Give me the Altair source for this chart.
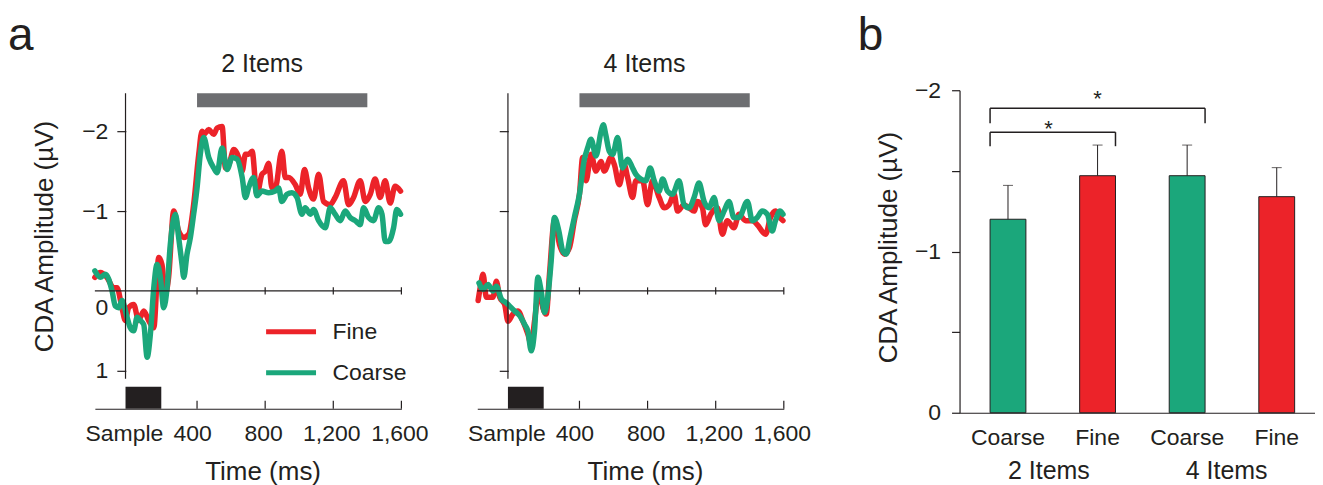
import altair as alt
import pandas as pd

RED = "#ec2329"
GREEN = "#1ba77b"
DARK = "#231f20"
GREY = "#6d6e71"
FONT = "Liberation Sans"

# ---------------- waveform data ----------------
t2_coarse = [-200, -168, -138, -99, -80, -60, -41, -11, 8, 28, 48, 67, 87, 107, 126, 146, 165, 185, 204, 224,
             243, 273, 292, 312, 322, 341, 361, 380, 400, 419, 439, 469, 498, 518, 547, 577, 606, 635, 665, 684,
             704, 732, 752, 781, 820, 859, 879, 898, 928, 957, 987, 1016, 1035, 1065, 1084, 1114, 1153, 1182,
             1211, 1241, 1270, 1299, 1329, 1358, 1378, 1407, 1436, 1466, 1486, 1505, 1525, 1554, 1573, 1595]
v2_coarse = [-0.25, -0.17, -0.21, 0.0, 0.19, 0.21, 0.12, 0.33, 0.46, 0.50, 0.33, 0.37, 0.42, 0.83, 0.54, -0.04,
             -0.33, -0.17, 0.21, -0.04, -0.58, -0.96, -0.67, -0.33, -0.17, -0.46, -0.67, -0.96, -1.29, -1.71,
             -1.92, -1.67, -1.54, -1.48, -1.79, -1.52, -1.67, -1.65, -1.42, -1.17, -1.30, -1.42, -1.19, -1.25,
             -1.23, -1.25, -1.29, -1.12, -1.21, -1.23, -1.17, -0.96, -1.04, -0.96, -1.02, -0.88, -0.79, -1.04,
             -0.96, -0.88, -1.00, -0.92, -0.88, -0.83, -1.04, -0.92, -0.88, -1.04, -0.96, -0.62, -0.62, -0.79,
             -1.02, -0.96]

t2_fine = [-200, -168, -129, -90, -70, -41, -21, -2, 28, 57, 87, 116, 146, 175, 194, 214, 233, 263, 292, 322,
           351, 380, 410, 429, 440, 469, 498, 518, 547, 567, 587, 616, 645, 665, 684, 703, 723, 752, 781, 801,
           820, 840, 859, 898, 918, 938, 977, 1006, 1031, 1055, 1084, 1114, 1143, 1182, 1211, 1260, 1290, 1319,
           1358, 1388, 1417, 1446, 1475, 1505, 1534, 1563, 1595]
v2_fine = [-0.17, -0.23, -0.17, -0.04, -0.04, 0.21, 0.37, 0.21, 0.17, 0.37, 0.25, 0.37, 0.46, -0.42, -0.33, 0.04,
           -0.17, -1.00, -0.75, -0.67, -0.71, -1.08, -1.71, -2.00, -1.96, -2.02, -1.96, -2.04, -2.06, -1.54,
           -1.58, -1.77, -1.67, -1.50, -1.71, -1.71, -1.75, -1.21, -1.46, -1.50, -1.60, -1.29, -1.29, -1.75,
           -1.42, -1.42, -1.33, -1.21, -1.52, -1.29, -1.15, -1.46, -1.12, -1.08, -1.17, -1.38, -1.08, -1.17,
           -1.38, -1.12, -1.21, -1.40, -1.17, -1.38, -1.10, -1.31, -1.25]

t4_coarse = [-190, -166, -137, -108, -88, -59, -29, -10, 19, 49, 78, 97, 117, 136, 156, 175, 195, 214, 234, 253,
             279, 302, 322, 345, 370, 400, 429, 448, 468, 497, 527, 540, 555, 575, 595, 624, 653, 683, 712, 731,
             761, 790, 815, 839, 868, 888, 917, 946, 985, 1014, 1044, 1073, 1102, 1132, 1161, 1190, 1220, 1249,
             1278, 1307, 1337, 1386, 1415, 1444, 1473, 1503, 1532, 1551, 1577, 1595]
v4_coarse = [-0.10, -0.02, -0.08, 0.0, -0.06, 0.10, 0.15, 0.19, 0.25, 0.31, 0.42, 0.50, 0.75, 0.50, -0.17, 0.0,
             0.27, 0.08, -0.38, -0.92, -0.75, -0.50, -0.46, -0.67, -0.92, -1.21, -1.65, -1.79, -1.90, -1.69,
             -2.00, -2.08, -1.95, -1.75, -1.71, -1.92, -1.54, -1.65, -1.54, -1.46, -1.40, -1.38, -1.54, -1.38,
             -1.25, -1.40, -1.25, -1.21, -1.38, -1.08, -1.04, -1.17, -1.35, -1.12, -1.04, -1.17, -0.88, -1.00,
             -1.12, -0.92, -0.92, -1.12, -0.88, -0.92, -1.00, -0.96, -0.75, -0.88, -1.00, -0.96]

t4_fine = [-195, -178, -166, -147, -108, -88, -68, -39, -20, 9, 39, 68, 97, 117, 136, 165, 185, 205, 224, 253,
           283, 312, 341, 370, 400, 419, 439, 468, 497, 526, 546, 585, 605, 634, 663, 683, 712, 731, 771, 800,
           829, 868, 898, 927, 956, 976, 1014, 1044, 1073, 1093, 1122, 1141, 1171, 1210, 1239, 1268, 1307, 1337,
           1376, 1415, 1444, 1493, 1522, 1551, 1577, 1595]
v4_fine = [0.12, -0.10, -0.21, 0.08, 0.08, -0.12, 0.08, 0.17, 0.38, 0.29, 0.25, 0.38, 0.54, 0.67, 0.38, -0.04,
           0.21, 0.29, -0.21, -0.88, -0.58, -0.46, -0.54, -0.88, -1.21, -1.67, -1.38, -1.71, -1.50, -1.62, -1.50,
           -1.67, -1.58, -1.33, -1.58, -1.42, -1.17, -1.38, -1.38, -1.08, -1.38, -1.17, -1.04, -1.08, -1.21,
           -1.00, -1.08, -1.04, -1.00, -1.12, -1.04, -0.83, -0.96, -1.04, -0.71, -0.88, -0.79, -0.96, -0.88,
           -0.88, -0.83, -0.71, -0.92, -1.00, -0.92, -0.88]

conditions = ["Fine", "Coarse"]
x_domain = [-200, 1600]
wave_y_domain = [-2.5125, 1.475]
axis_times = [0, 400, 800, 1200, 1600]
tick_times = [400, 800, 1200, 1600]
wave_y_ticks = [-2, -1, 0, 1]
sample_window = [-20, 190]
signif_window = [400, 1400]
y_axis_time = -20
y_axis_span = [-2.475, 1.1]

# ---------------- bar data ----------------
bar_keys = ["2|Coarse", "2|Fine", "4|Coarse", "4|Fine"]
bar_conds = ["Coarse", "Fine", "Coarse", "Fine"]
bar_means = [-1.20, -1.47, -1.47, -1.34]
bar_sems = [0.21, 0.19, 0.19, 0.18]
groups = ["2 Items", "4 Items"]
bar_y_ticks = [-2, -1.5, -1, -0.5, 0]
bracket_from = ["2|Coarse", "2|Coarse"]
bracket_to = ["4|Coarse", "2|Fine"]
bracket_top = [-1.889, -1.74]
bracket_leg = [-1.796, -1.653]

W1, H1 = 307, 319
W3, H3 = 356, 323
LETTER_SIZE = 46
LETTER_Y = -76

color_scale = alt.Scale(domain=conditions, range=[RED, GREEN])


def wave_panel(tf, vf, tc, vc, title, first, letter):
    xs = alt.Scale(domain=x_domain, nice=False, zero=False)
    ys = alt.Scale(domain=wave_y_domain, reverse=True, nice=False, zero=False)

    xkw = dict(values=axis_times, ticks=False, grid=False, domainColor=DARK, domainWidth=1.2,
               labelExpr="datum.value == 0 ? 'Sample' : format(datum.value, ',')",
               labelFontSize=23, labelPadding=14, labelFlush=False, labelOverlap=False,
               labelOffset={"condition": {"test": "datum.value <= 400", "value": -5}, "value": -2},
               title="Time (ms)", titleFontSize=26, titleX=168, titleY=71, titleBaseline="alphabetic")
    ykw = dict(values=wave_y_ticks, offset=-31, domain=False, grid=False, tickSize=9, tickWidth=1.2,
               tickOpacity={"condition": {"test": "datum.value === 0", "value": 0}, "value": 1},
               labels=first, labelFontSize=23, labelPadding=9,
               labelOffset={"condition": {"test": "datum.value === 0", "value": 17}, "value": 0})
    if first:
        ykw.update(title="CDA Amplitude (µV)", titleFontSize=26, titlePadding=24, titleY=146)
    else:
        ykw.update(title=None)
    xax = alt.Axis(**xkw)
    yax = alt.Axis(**ykw)

    df_f = pd.DataFrame({"t": tf, "v": vf, "cond": "Fine"})
    df_c = pd.DataFrame({"t": tc, "v": vc, "cond": "Coarse"})

    if first:
        legend = alt.Legend(orient="none", legendX=169, legendY=232, title=None, symbolType="stroke",
                            symbolSize=2500, symbolStrokeWidth=5, labelFontSize=23, labelOffset=14,
                            rowPadding=18, clipHeight=20, padding=0, direction="vertical")
    else:
        legend = None

    def line(df):
        return alt.Chart(df).mark_line(strokeWidth=5.5, interpolate="monotone", strokeJoin="round",
                                       strokeCap="round").encode(
            x=alt.X("t:Q", scale=xs, axis=xax),
            y=alt.Y("v:Q", scale=ys, axis=yax),
            color=alt.Color("cond:N", scale=color_scale, legend=legend),
        )

    fine = line(df_f)
    coarse = line(df_c)

    grey = alt.Chart(pd.DataFrame({"t": [signif_window[0]], "t1": [signif_window[1]]})).mark_rect(
        color=GREY).encode(x=alt.X("t:Q", scale=xs, axis=xax), x2="t1:Q",
                           y=alt.value(3), y2=alt.value(17))
    sample = alt.Chart(pd.DataFrame({"t": [sample_window[0]], "t1": [sample_window[1]]})).mark_rect(
        color=DARK).encode(x=alt.X("t:Q", scale=xs, axis=xax), x2="t1:Q",
                           y=alt.value(H1 - 22), y2=alt.value(H1))
    zero = alt.Chart(pd.DataFrame({"t": [x_domain[0]], "t1": [x_domain[1]], "v": [0]})).mark_rule(
        color=DARK, strokeWidth=1.2).encode(x=alt.X("t:Q", scale=xs, axis=xax), x2="t1:Q",
                                            y=alt.Y("v:Q", scale=ys, axis=yax))
    zticks = alt.Chart(pd.DataFrame({"t": tick_times, "v": -0.045, "v1": 0.045})).mark_rule(
        color=DARK, strokeWidth=1.2).encode(x=alt.X("t:Q", scale=xs, axis=xax),
                                            y=alt.Y("v:Q", scale=ys, axis=yax), y2="v1:Q")
    bticks = alt.Chart(pd.DataFrame({"t": tick_times})).mark_rule(
        color=DARK, strokeWidth=1.2).encode(x=alt.X("t:Q", scale=xs, axis=xax),
                                            y=alt.value(H1 - 8), y2=alt.value(H1))
    yline = alt.Chart(pd.DataFrame({"t": [y_axis_time], "v": [y_axis_span[0]], "v1": [y_axis_span[1]]})).mark_rule(
        color=DARK, strokeWidth=1.2).encode(x=alt.X("t:Q", scale=xs, axis=xax),
                                            y=alt.Y("v:Q", scale=ys, axis=yax), y2="v1:Q")
    ttl = alt.Chart(pd.DataFrame({"title": [title]})).mark_text(
        fontSize=25, align="center", baseline="alphabetic", color=DARK, font=FONT).encode(
        text="title:N", x=alt.value(167.5), y=alt.value(-18))
    layers = [fine, coarse, grey, sample, zero, zticks, bticks, yline, ttl]
    if letter:
        lt = alt.Chart(pd.DataFrame({"letter": [letter]})).mark_text(
            fontSize=LETTER_SIZE, align="left", baseline="top", color=DARK, font=FONT).encode(
            text="letter:N", x=alt.value(-87), y=alt.value(LETTER_Y))
        layers.append(lt)
    return alt.layer(*layers).properties(width=W1, height=H1)


p1 = wave_panel(t2_fine, v2_fine, t2_coarse, v2_coarse, "2 Items", True, "a")
p2 = wave_panel(t4_fine, v4_fine, t4_coarse, v4_coarse, "4 Items", False, None)

spacer = alt.Chart(pd.DataFrame({"s": [0]})).mark_point(opacity=0).encode(
    x=alt.X("s:Q", axis=None), y=alt.Y("s:Q", axis=None)).properties(width=24, height=10)

# ---------------- bar panel ----------------
bars_df = pd.DataFrame({"key": bar_keys, "cond": bar_conds, "mean": bar_means,
                        "top": [m - s for m, s in zip(bar_means, bar_sems)]})
br_df = pd.DataFrame({"c1": bracket_from, "c2": bracket_to, "ytop": bracket_top, "yleg": bracket_leg})

xb = alt.Scale(domain=bar_keys, paddingInner=0.6, paddingOuter=0.284, align=0.6)
yb = alt.Scale(domain=[-2, 0], reverse=True, nice=False, zero=False)

bar_x_axis = alt.Axis(labelExpr="split(datum.label, '|')[1]", ticks=False, labelAngle=0, labelPadding=14,
                      labelFontSize=23, title=None, domainColor=DARK, domainWidth=1.2, grid=False)
bar_y_axis = alt.Axis(values=bar_y_ticks, labelExpr="datum.value % 1 === 0 ? format(datum.value, 'd') : ''",
                      tickSize=8, tickWidth=1.2, labelPadding=11, labelFontSize=23, domainColor=DARK,
                      domainWidth=1.2, grid=False, title="CDA Amplitude (µV)", titleFontSize=26,
                      titlePadding=13, titleY=157)

bars = alt.Chart(bars_df).mark_bar(stroke=DARK, strokeWidth=1).encode(
    x=alt.X("key:N", scale=xb, axis=bar_x_axis),
    y=alt.Y("mean:Q", scale=yb, axis=bar_y_axis),
    y2=alt.datum(0),
    color=alt.Color("cond:N", scale=color_scale, legend=None),
)
errs = alt.Chart(bars_df).mark_rule(color=DARK, strokeWidth=1).encode(
    x=alt.X("key:N", scale=xb, axis=bar_x_axis), y=alt.Y("mean:Q", scale=yb, axis=bar_y_axis), y2="top:Q")
caps = alt.Chart(bars_df).mark_tick(color=DARK, thickness=1, size=10).encode(
    x=alt.X("key:N", scale=xb, axis=bar_x_axis), y=alt.Y("top:Q", scale=yb, axis=bar_y_axis))
br_h = alt.Chart(br_df).mark_rule(color=DARK, strokeWidth=1.5).encode(
    x=alt.X("c1:N", scale=xb, axis=bar_x_axis, bandPosition=0), x2=alt.X2("c2:N", bandPosition=1),
    y=alt.Y("ytop:Q", scale=yb, axis=bar_y_axis))
br_l = alt.Chart(br_df).mark_rule(color=DARK, strokeWidth=1.5).encode(
    x=alt.X("c1:N", scale=xb, axis=bar_x_axis, bandPosition=0),
    y=alt.Y("ytop:Q", scale=yb, axis=bar_y_axis), y2="yleg:Q")
br_r = alt.Chart(br_df).mark_rule(color=DARK, strokeWidth=1.5).encode(
    x=alt.X("c2:N", scale=xb, axis=bar_x_axis, bandPosition=1),
    y=alt.Y("ytop:Q", scale=yb, axis=bar_y_axis), y2="yleg:Q")
star_up = alt.Chart(pd.DataFrame({"key": ["2|Fine"], "s": ["*"], "y": [-1.905]})).mark_text(
    fontSize=22, baseline="alphabetic", color=DARK, font=FONT).encode(
    x=alt.X("key:N", scale=xb, axis=bar_x_axis), y=alt.Y("y:Q", scale=yb, axis=bar_y_axis), text="s:N")
letter_b = alt.Chart(pd.DataFrame({"letter": ["b"]})).mark_text(
    fontSize=LETTER_SIZE, align="left", baseline="top", color=DARK, font=FONT).encode(
    text="letter:N", x=alt.value(-102), y=alt.value(LETTER_Y))

main_layer = alt.layer(bars, errs, caps, br_h, br_l, br_r, star_up, letter_b)

grp_layer = alt.Chart(pd.DataFrame({"group": ["2 Items"], "s": ["*"], "y": [-1.718]})).mark_text(
    fontSize=22, baseline="alphabetic", color=DARK, font=FONT).encode(
    x=alt.X("group:N", scale=alt.Scale(domain=groups, paddingInner=0, paddingOuter=0),
            axis=alt.Axis(orient="bottom", domain=False, ticks=False, labelAngle=0, labelPadding=46,
                          labelFontSize=25, title=None, grid=False)),
    y=alt.Y("y:Q", scale=yb, axis=bar_y_axis), text="s:N")

p3 = alt.layer(main_layer, grp_layer).resolve_scale(x="independent").properties(width=W3, height=H3)

chart = alt.hconcat(p1, p2, spacer, p3, spacing=76, bounds="flush").resolve_scale(
    x="independent", y="independent", color="independent"
).properties(
    padding={"left": 0, "top": 81 + LETTER_Y, "right": 0, "bottom": 0}
).configure_view(strokeWidth=0).configure_axis(
    labelFont=FONT, titleFont=FONT, labelColor=DARK, titleColor=DARK, tickColor=DARK,
    domainColor=DARK, titleFontWeight="normal"
).configure_legend(labelFont=FONT, labelColor=DARK).configure_text(font=FONT)

chart.save("out.html", embed_options={"renderer": "svg", "actions": False})
